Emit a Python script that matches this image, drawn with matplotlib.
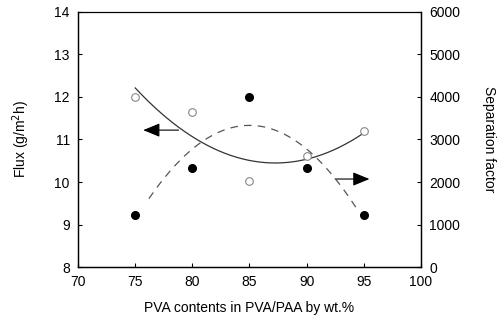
import numpy as np
import matplotlib
matplotlib.use('Agg')
import matplotlib.pyplot as plt

plt.rcParams['font.family'] = ['Liberation Sans', 'DejaVu Sans']

pva = [75, 80, 85, 90, 95]
flux = [12.0, 11.65, 10.02, 10.6, 11.2]          # g/m2h, open circles
sep_factor = [1220, 2330, 4000, 2330, 1220]     # filled circles

fig = plt.figure(figsize=(5.04, 3.21), dpi=100)
ax = fig.add_axes([0.155, 0.168, 0.68, 0.795])
ax2 = ax.twinx()

# quadratic fits drawn through the points
xf = np.linspace(75, 95, 200)
cf = np.polyfit(pva, flux, 2)
ax.plot(xf, np.polyval(cf, xf), color='#333333', lw=0.9)
xs = np.linspace(76.2, 94.3, 200)
cs = np.polyfit(pva, sep_factor, 2)
ax2.plot(xs, np.polyval(cs, xs), color='#555555', lw=0.9, dashes=(6, 5))

ax.plot(pva, flux, 'o', mfc='white', mec='#888888', ms=5.5, mew=0.8, zorder=5)
ax2.plot(pva, sep_factor, 'o', color='black', ms=5.5, zorder=5)

# arrows pointing at the axis each series belongs to
head = '-|>,head_length=0.85,head_width=0.35'
ax.annotate('', xy=(75.7, 11.22), xytext=(78.8, 11.22),
            arrowprops=dict(arrowstyle=head, color='black', lw=0.8,
                            mutation_scale=12, shrinkA=0, shrinkB=0))
ax.annotate('', xy=(95.5, 10.07), xytext=(92.5, 10.07),
            arrowprops=dict(arrowstyle=head, color='black', lw=0.8,
                            mutation_scale=12, shrinkA=0, shrinkB=0))

ax.set_xlim(70, 100)
ax.set_ylim(8, 14)
ax2.set_ylim(0, 6000)
ax.set_xticks(range(70, 101, 5))
ax.set_yticks(range(8, 15))
ax2.set_yticks(range(0, 6001, 1000))

for a in (ax, ax2):
    a.tick_params(direction='in', length=3, width=0.8, labelsize=10, pad=6)
    for s in a.spines.values():
        s.set_linewidth(0.9)
ax.spines['top'].set_linewidth(0.6)

ax.set_xlabel('PVA contents in PVA/PAA by wt.%', fontsize=10, labelpad=8)
ax.set_ylabel('Flux (g/m$^2$h)', fontsize=10, labelpad=16)
ax2.set_ylabel('Separation factor', fontsize=10, rotation=-90, labelpad=26)

fig.savefig('out.png', dpi=100)
